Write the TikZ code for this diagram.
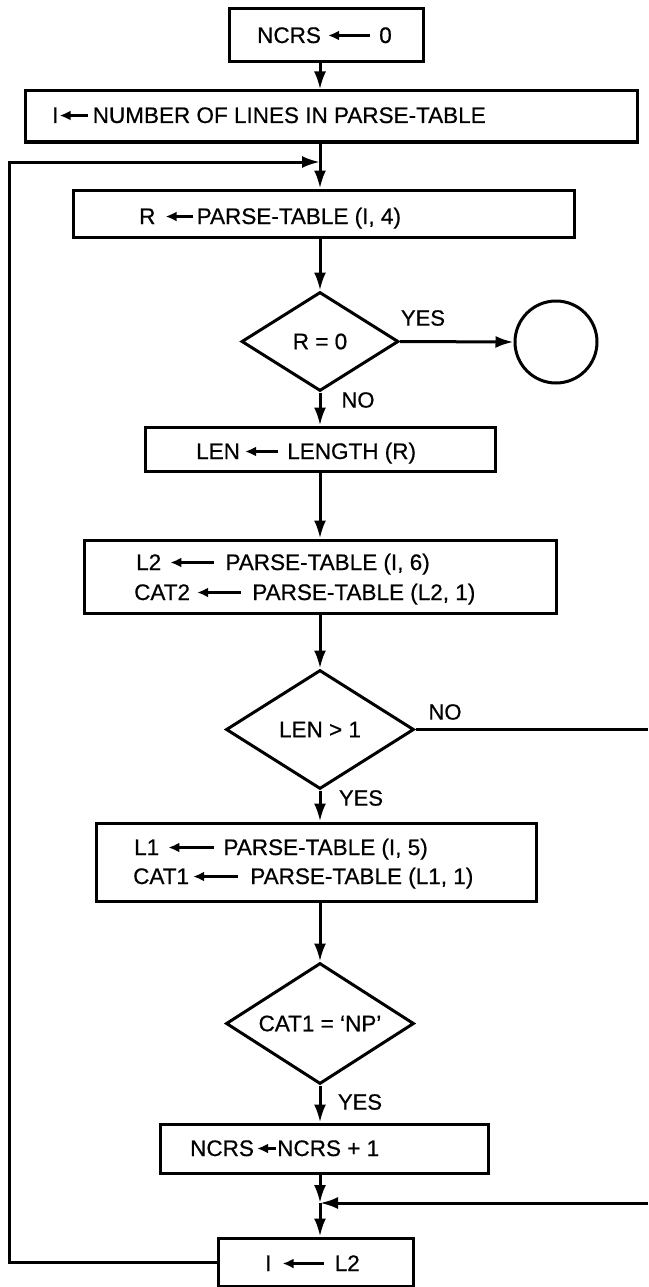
\documentclass[tikz,border=0pt]{standalone}
\usepackage{fontspec}
\setmainfont{Liberation Sans}[FakeBold=0.6]
\usetikzlibrary{shapes.geometric,arrows.meta}
\newcommand{\tarr}[1]{\tikz[baseline=-7.5pt]\draw[line width=2.3pt,{Latex[length=11pt,width=10pt]}-](0pt,0pt)--(#1pt,0pt);}
\begin{document}
\begin{tikzpicture}[x=1pt,y=-1pt,
  box/.style={draw,line width=3pt,inner sep=0pt},
  dia/.style={draw,diamond,line width=3pt,inner sep=0pt,font=\fontsize{22.5pt}{27pt}\selectfont},
  txt/.style={inner sep=0pt,font=\fontsize{22.5pt}{27pt}\selectfont},
  lbl/.style={inner sep=0pt,font=\fontsize{22pt}{26pt}\selectfont},
  conn/.style={line width=3pt},
  arr/.style={conn,-{Latex[length=18pt,width=12pt]}}]
\useasboundingbox (0,0) rectangle (648,1287);

% boxes
\node[box,minimum width=194pt,minimum height=53pt] (ncrs) at (326,35.5) {};
\node[box,minimum width=612pt,minimum height=51pt] (ibox) at (331,116.5) {};
\node[box,minimum width=501pt,minimum height=47pt] (rbox) at (323.5,213.5) {};
\node[dia,aspect=1.59,minimum width=157pt,minimum height=99pt] (d1) at (320,341.5) {R = 0};
\node[draw,circle,line width=3pt,minimum size=82pt,inner sep=0pt] (stop) at (556,342) {};
\node[box,minimum width=350pt,minimum height=44pt] (lenbox) at (320,449) {};
\node[box,minimum width=472pt,minimum height=73pt] (l2box) at (320,576.5) {};
\node[dia,aspect=1.58,minimum width=188pt,minimum height=119pt] (d2) at (320,729.5) {LEN > 1};
\node[box,minimum width=440pt,minimum height=78pt] (l1box) at (316,862) {};
\node[dia,aspect=1.55,minimum width=188pt,minimum height=121pt] (d3) at (320,1023.5) {CAT1 = ‘NP’};
\node[box,minimum width=328pt,minimum height=49pt] (nbox) at (324,1148.5) {};
\node[box,minimum width=195pt,minimum height=48pt] (ilbox) at (315.5,1262) {};

% texts
\node[txt,anchor=base west] (t0) at (257,43) {NCRS\hspace{6pt}\tarr{42}\hspace{8pt}0};
\node[txt,anchor=base west] (t1) at (52,123) {I\tarr{28}\hspace{4pt}NUMBER OF LINES IN PARSE-TABLE};
\node[txt,anchor=base west] (t2) at (139,224) {R\hspace{9pt}\tarr{27}\hspace{3pt}PARSE-TABLE (I, 4)};
\node[txt,anchor=base west] (t3) at (196,459) {LEN\hspace{4pt}\tarr{33}\hspace{8pt}LENGTH (R)};
\node[txt,anchor=base west] (t4) at (136,570) {L2\hspace{8pt}\tarr{44}\hspace{10pt}PARSE-TABLE (I, 6)};
\node[txt,anchor=base west] (t5) at (134,600) {CAT2\hspace{6pt}\tarr{44}\hspace{10pt}PARSE-TABLE (L2, 1)};
\node[txt,anchor=base west] (t6) at (134,855) {L1\hspace{8pt}\tarr{46}\hspace{8pt}PARSE-TABLE (I, 5)};
\node[txt,anchor=base west] (t7) at (133,884) {CAT1\hspace{3pt}\tarr{45}\hspace{11pt}PARSE-TABLE (L1, 1)};
\node[txt,anchor=base west] (t8) at (190,1156) {NCRS\hspace{2pt}\tarr{19}NCRS + 1};
\node[txt,anchor=base west] (t9) at (265,1271) {I\hspace{10pt}\tarr{41}\hspace{10pt}L2};

% labels
\node[lbl] (yes1) at (423,318) {YES};
\node[lbl] (no1) at (358,400) {NO};
\node[lbl] (no2) at (445,712) {NO};
\node[lbl] (yes2) at (361,798) {YES};
\node[lbl] (yes3) at (360,1102) {YES};

% coordinates
\coordinate (X) at (320,0);
\coordinate (join) at (320,162);
\coordinate (merge) at (320,1203);
\coordinate (eR1) at (648,729.5);
\coordinate (eR2) at (648,1203);
\coordinate (lb) at (9,1262);
\coordinate (lt) at (9,162);

% connectors
\draw[arr] (ncrs.south -| X) -- (ibox.north -| X);
\draw[arr] (ibox.south -| X) -- (rbox.north -| X);
\draw[arr] (rbox.south -| X) -- (d1.north);
\draw[arr] (d1.east) -- (stop.west);
\draw[arr] (d1.south) -- (lenbox.north -| X);
\draw[arr] (lenbox.south -| X) -- (l2box.north -| X);
\draw[arr] (l2box.south -| X) -- (d2.north);
\draw[conn] (d2.east) -- (eR1);
\draw[arr] (d2.south) -- (l1box.north -| X);
\draw[arr] (l1box.south -| X) -- (d3.north);
\draw[arr] (d3.south) -- (nbox.north -| X);
\draw[arr] (nbox.south -| X) -- (merge);
\draw[arr] (eR2) -- (merge);
\draw[arr] (merge) -- (ilbox.north -| X);
\draw[arr] (ilbox.west) -- (lb) -- (lt) -- (join);
\end{tikzpicture}
\end{document}
